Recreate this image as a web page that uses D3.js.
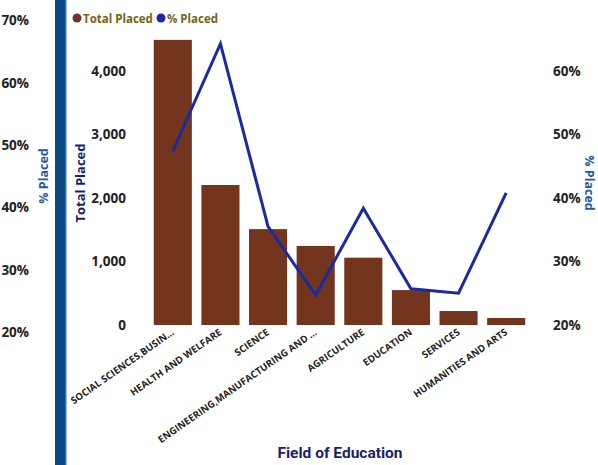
<!DOCTYPE html>
<html>
<head>
<meta charset="utf-8">
<script src="https://cdn.jsdelivr.net/npm/d3@7"></script>
<style>
  html, body { margin: 0; padding: 0; background: #fff; }
  svg { display: block; }
  text { font-family: "Open Sans", "Segoe UI", sans-serif; }
</style>
</head>
<body>
<svg id="chart" width="598" height="465"></svg>
<script>
// Placements by field of education
const categories = [
  "SOCIAL SCIENCES,BUSIN...",
  "HEALTH AND WELFARE",
  "SCIENCE",
  "ENGINEERING,MANUFACTURING AND ...",
  "AGRICULTURE",
  "EDUCATION",
  "SERVICES",
  "HUMANITIES AND ARTS"
];
const totalPlaced = [4490, 2205, 1510, 1245, 1060, 550, 220, 110];
const pctPlaced = [0.474, 0.643, 0.355, 0.247, 0.384, 0.257, 0.250, 0.408];
const countTicks = [0, 1000, 2000, 3000, 4000];
const pctTicks = [0.2, 0.3, 0.4, 0.5, 0.6];
const outerPctTicks = [0.2, 0.3, 0.4, 0.5, 0.6, 0.7];

const svg = d3.select("#chart");
const barColor = "#74351f";
const lineColor = "#1a2aa0";

const x = d3.scaleBand().domain(categories).range([149, 530]).paddingInner(0.2).paddingOuter(0.1);
const yCount = d3.scaleLinear().domain([0, 4000]).range([325, 71]);
const yPct = d3.scaleLinear().domain([0.2, 0.6]).range([325, 71]);
const yOuter = d3.scaleLinear().domain([0.2, 0.7]).range([332, 20]);

// Outer percentage axis
const outerAxis = svg.append("g").attr("transform", "translate(29,0)")
  .call(d3.axisLeft(yOuter).tickValues(outerPctTicks).tickFormat(d3.format(".0%")).tickSize(0).tickPadding(0));
outerAxis.select(".domain").remove();
outerAxis.selectAll("text").attr("font-size", 13.5).attr("font-weight", 700).attr("fill", "#222").attr("dy", "0.35em");

svg.append("text")
  .attr("transform", "translate(48,176) rotate(-90)")
  .attr("text-anchor", "middle")
  .attr("font-size", 12.5).attr("font-weight", 700).attr("fill", "#1f5a9e")
  .text("% Placed");

// Vertical band
svg.append("rect").attr("x", 55).attr("y", 0).attr("width", 11).attr("height", 465).attr("fill", "#0b4a85");
svg.append("rect").attr("x", 65).attr("y", 0).attr("width", 1.5).attr("height", 465).attr("fill", "#2a78c4");

// Legend
const legend = svg.append("g");
legend.append("circle").attr("cx", 77).attr("cy", 18).attr("r", 4.5).attr("fill", barColor);
legend.append("text").attr("x", 83).attr("y", 22.5).attr("font-size", 11.5).attr("font-weight", 700)
  .attr("fill", "#756316").text("Total Placed");
legend.append("circle").attr("cx", 161).attr("cy", 18).attr("r", 4.5).attr("fill", lineColor);
legend.append("text").attr("x", 167).attr("y", 22.5).attr("font-size", 11.5).attr("font-weight", 700)
  .attr("fill", "#756316").text("% Placed");

// Left count axis
const leftAxis = svg.append("g").attr("transform", "translate(126,0)")
  .call(d3.axisLeft(yCount).tickValues(countTicks).tickFormat(d3.format(",")).tickSize(0).tickPadding(0));
leftAxis.select(".domain").remove();
leftAxis.selectAll("text").attr("font-size", 13.5).attr("font-weight", 700).attr("fill", "#222");

svg.append("text")
  .attr("transform", "translate(85,183) rotate(-90)")
  .attr("text-anchor", "middle")
  .attr("font-size", 13).attr("font-weight", 700).attr("fill", "#1b1f6b")
  .text("Total Placed");

// Right percentage axis
const rightAxis = svg.append("g").attr("transform", "translate(553,0)")
  .call(d3.axisRight(yPct).tickValues(pctTicks).tickFormat(d3.format(".0%")).tickSize(0).tickPadding(0));
rightAxis.select(".domain").remove();
rightAxis.selectAll("text").attr("font-size", 13.5).attr("font-weight", 700).attr("fill", "#222");

svg.append("text")
  .attr("transform", "translate(585,183) rotate(90)")
  .attr("text-anchor", "middle")
  .attr("font-size", 12.5).attr("font-weight", 700).attr("fill", "#1f5a9e")
  .text("% Placed");

// Bars
svg.append("g").selectAll("rect").data(categories).join("rect")
  .attr("x", d => x(d))
  .attr("y", (d, i) => yCount(totalPlaced[i]))
  .attr("width", x.bandwidth())
  .attr("height", (d, i) => yCount(0) - yCount(totalPlaced[i]))
  .attr("fill", barColor);

// Line
const line = d3.line()
  .x((d, i) => x(categories[i]) + x.bandwidth() / 2)
  .y(d => yPct(d));
svg.append("path").datum(pctPlaced)
  .attr("d", line)
  .attr("fill", "none")
  .attr("stroke", lineColor)
  .attr("stroke-width", 3)
  .attr("stroke-linejoin", "miter");

// Category axis
const xAxis = svg.append("g").attr("transform", "translate(0,331)")
  .call(d3.axisBottom(x).tickSize(0).tickPadding(0));
xAxis.select(".domain").remove();
xAxis.selectAll("text")
  .attr("font-size", 9.7).attr("font-weight", 700).attr("fill", "#222")
  .attr("text-anchor", "end")
  .attr("dy", "0.35em")
  .attr("transform", "rotate(-35)");

svg.append("text")
  .attr("x", 340).attr("y", 458)
  .attr("text-anchor", "middle")
  .attr("font-size", 15.5).attr("font-weight", 700).attr("fill", "#1b1f6b")
  .style("font-family", "Roboto, 'DejaVu Sans', sans-serif")
  .text("Field of Education");
</script>
</body>
</html>
